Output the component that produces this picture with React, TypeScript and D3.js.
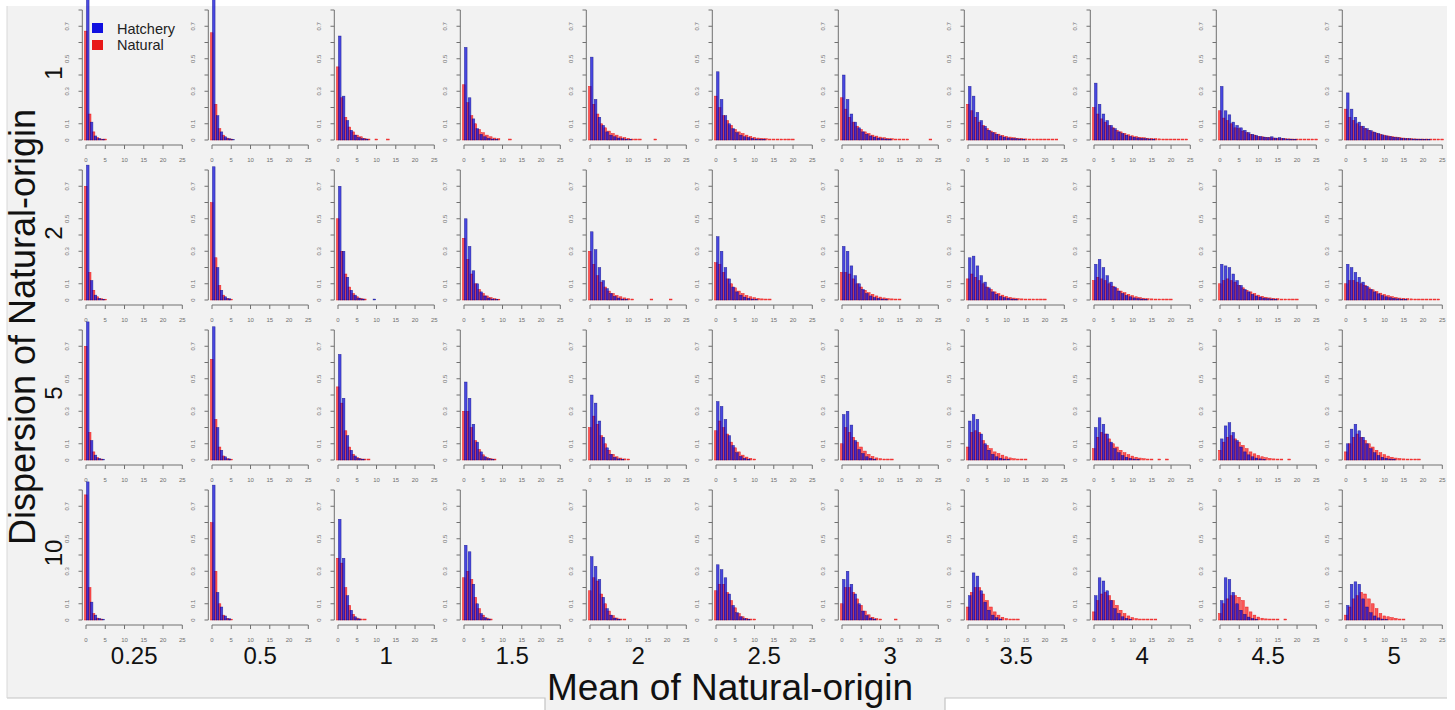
import React from "react";
import * as d3 from "d3";

// column (mean) and row (dispersion) labels
const means = ["0.25", "0.5", "1", "1.5", "2", "2.5", "3", "3.5", "4", "4.5", "5"];
const dispersions = ["1", "2", "5", "10"];
const xTicks = [0, 5, 10, 15, 20, 25];
const yTicks = [0, 0.1, 0.2, 0.3, 0.4, 0.5, 0.6, 0.7, 0.8];
const yTickLabels = [0, 0.1, 0.3, 0.5, 0.7];
const seriesNames = ["Hatchery", "Natural"];

// proportions per count (0, 1, 2, ...)
const hatcheryD1 = [
  [0.88, 0.11, 0.025, 0.01, 0.004],
  [0.88, 0.15, 0.05, 0.02, 0.008, 0.004],
  [0.64, 0.27, 0.12, 0.06, 0.03, 0.015, 0.008, 0.005],
  [0.57, 0.26, 0.13, 0.07, 0.035, 0.02, 0.01, 0.006, 0.004],
  [0.51, 0.25, 0.14, 0.09, 0.05, 0.03, 0.02, 0.012, 0.008, 0.005, 0.004],
  [0.42, 0.25, 0.15, 0.1, 0.07, 0.045, 0.03, 0.02, 0.015, 0.01, 0.006, 0.005, 0.004],
  [0.4, 0.25, 0.16, 0.11, 0.075, 0.05, 0.035, 0.025, 0.018, 0.012, 0.008, 0.006, 0.004],
  [0.33, 0.27, 0.17, 0.12, 0.085, 0.06, 0.045, 0.035, 0.025, 0.018, 0.013, 0.01, 0.008, 0.006, 0.004],
  [0.35, 0.22, 0.16, 0.12, 0.09, 0.07, 0.05, 0.04, 0.03, 0.022, 0.017, 0.013, 0.01, 0.008, 0.006, 0.005],
  [0.33, 0.18, 0.155, 0.11, 0.09, 0.075, 0.06, 0.045, 0.035, 0.028, 0.022, 0.018, 0.015, 0.02, 0.012, 0.015, 0.01, 0.006, 0.005, 0.004],
  [0.29, 0.19, 0.14, 0.11, 0.085, 0.07, 0.058, 0.048, 0.04, 0.032, 0.026, 0.021, 0.017, 0.014, 0.011, 0.009, 0.008, 0.006, 0.005, 0.005, 0.004, 0.004],
];
const naturalD1 = [
  [0.67, 0.16, 0.05, 0.015, 0.006, 0.006],
  [0.66, 0.22, 0.07, 0.03, 0.012, 0.006],
  [0.45, 0.26, 0.14, 0.08, 0.05, 0.03, 0.02, 0.01, 0.006, 0, 0.006, 0, 0, 0.006],
  [0.34, 0.23, 0.15, 0.1, 0.065, 0.045, 0.03, 0.02, 0.012, 0.008, 0, 0, 0.006],
  [0.33, 0.22, 0.16, 0.1, 0.075, 0.055, 0.04, 0.03, 0.02, 0.015, 0.01, 0.006, 0.006, 0.006, 0, 0, 0, 0.006],
  [0.27, 0.2, 0.15, 0.12, 0.09, 0.065, 0.05, 0.04, 0.03, 0.022, 0.016, 0.012, 0.01, 0.008, 0.006, 0.006, 0.006, 0.006, 0.006, 0.006, 0.006],
  [0.26, 0.19, 0.14, 0.11, 0.085, 0.065, 0.05, 0.04, 0.03, 0.024, 0.018, 0.014, 0.01, 0.008, 0.006, 0.006, 0.006, 0.006, 0, 0, 0, 0, 0, 0.006],
  [0.22, 0.18, 0.14, 0.11, 0.09, 0.07, 0.055, 0.045, 0.036, 0.028, 0.022, 0.018, 0.014, 0.011, 0.009, 0.007, 0.006, 0.006, 0.006, 0.006, 0.006, 0.006, 0.006, 0.006],
  [0.2, 0.16, 0.13, 0.11, 0.09, 0.075, 0.06, 0.05, 0.04, 0.032, 0.026, 0.021, 0.017, 0.014, 0.011, 0.009, 0.008, 0.007, 0.006, 0.006, 0.006, 0.006, 0.006, 0.006, 0.006],
  [0.18, 0.135, 0.12, 0.1, 0.075, 0.07, 0.055, 0.045, 0.035, 0.03, 0.022, 0.02, 0.016, 0.015, 0.012, 0.01, 0.009, 0.008, 0.007, 0.006, 0.006, 0.006, 0.006, 0.006, 0.006, 0.006],
  [0.19, 0.14, 0.12, 0.1, 0.085, 0.07, 0.06, 0.05, 0.042, 0.035, 0.03, 0.025, 0.021, 0.018, 0.015, 0.012, 0.01, 0.008, 0.007, 0.006, 0.006, 0.006, 0.006, 0.006, 0.006, 0.006],
];

const hatcheryD2 = [
  [0.83, 0.12, 0.03, 0.01, 0.004],
  [0.82, 0.2, 0.06, 0.02, 0.008],
  [0.7, 0.3, 0.14, 0.06, 0.03, 0.012, 0.006, 0, 0, 0.006],
  [0.5, 0.33, 0.18, 0.1, 0.05, 0.025, 0.012, 0.006, 0.004],
  [0.42, 0.31, 0.2, 0.12, 0.07, 0.04, 0.022, 0.012, 0.006, 0.004],
  [0.39, 0.3, 0.2, 0.13, 0.08, 0.05, 0.03, 0.018, 0.01, 0.006, 0.004],
  [0.33, 0.3, 0.21, 0.15, 0.1, 0.065, 0.04, 0.025, 0.015, 0.01, 0.006, 0.004],
  [0.26, 0.27, 0.21, 0.15, 0.11, 0.075, 0.05, 0.035, 0.022, 0.015, 0.01, 0.006, 0.004],
  [0.22, 0.25, 0.2, 0.15, 0.11, 0.08, 0.055, 0.04, 0.028, 0.02, 0.013, 0.009, 0.006, 0.004],
  [0.22, 0.21, 0.2, 0.16, 0.12, 0.09, 0.065, 0.05, 0.035, 0.025, 0.018, 0.012, 0.008, 0.006, 0.004],
  [0.22, 0.2, 0.17, 0.14, 0.11, 0.085, 0.065, 0.05, 0.038, 0.028, 0.02, 0.014, 0.01, 0.007, 0.005, 0.004],
];
const naturalD2 = [
  [0.7, 0.17, 0.06, 0.02, 0.008, 0.005],
  [0.6, 0.26, 0.09, 0.03, 0.01, 0.005],
  [0.5, 0.3, 0.16, 0.08, 0.04, 0.02, 0.01, 0.006],
  [0.38, 0.25, 0.16, 0.1, 0.065, 0.04, 0.025, 0.015, 0.008, 0.005],
  [0.3, 0.22, 0.15, 0.11, 0.08, 0.055, 0.04, 0.028, 0.02, 0.013, 0.008, 0.006, 0, 0, 0, 0, 0.006, 0, 0, 0, 0, 0.006],
  [0.23, 0.22, 0.17, 0.13, 0.1, 0.075, 0.055, 0.04, 0.028, 0.02, 0.014, 0.01, 0.007, 0.006, 0.006],
  [0.17, 0.17, 0.16, 0.13, 0.1, 0.08, 0.06, 0.045, 0.035, 0.025, 0.018, 0.013, 0.009, 0.007, 0.006, 0.006],
  [0.13, 0.16, 0.14, 0.12, 0.1, 0.08, 0.065, 0.05, 0.04, 0.03, 0.022, 0.016, 0.012, 0.009, 0.007, 0.006, 0.006, 0.006, 0.006, 0.006, 0.006],
  [0.12, 0.14, 0.13, 0.12, 0.1, 0.085, 0.07, 0.055, 0.045, 0.035, 0.027, 0.02, 0.015, 0.011, 0.008, 0.007, 0.006, 0.006, 0.006, 0.006, 0.006],
  [0.1, 0.12, 0.13, 0.12, 0.11, 0.09, 0.075, 0.06, 0.05, 0.04, 0.03, 0.023, 0.017, 0.013, 0.01, 0.008, 0.006, 0.006, 0.006, 0.006, 0.006],
  [0.1, 0.12, 0.12, 0.11, 0.1, 0.09, 0.075, 0.063, 0.052, 0.042, 0.034, 0.027, 0.021, 0.016, 0.012, 0.01, 0.008, 0.007, 0.006, 0.006, 0.006, 0.006, 0.006, 0.006, 0.006],
];

const hatcheryD5 = [
  [0.85, 0.12, 0.03, 0.01, 0.005],
  [0.82, 0.2, 0.06, 0.02, 0.007],
  [0.65, 0.38, 0.15, 0.06, 0.025, 0.01, 0.005],
  [0.48, 0.38, 0.22, 0.11, 0.05, 0.02, 0.008, 0.004],
  [0.4, 0.35, 0.24, 0.14, 0.075, 0.035, 0.016, 0.007, 0.004],
  [0.36, 0.33, 0.25, 0.15, 0.09, 0.045, 0.022, 0.01, 0.005],
  [0.28, 0.3, 0.215, 0.12, 0.065, 0.04, 0.02, 0.01, 0.005],
  [0.24, 0.28, 0.25, 0.16, 0.1, 0.06, 0.035, 0.02, 0.011, 0.006, 0.004],
  [0.2, 0.26, 0.22, 0.16, 0.11, 0.07, 0.045, 0.028, 0.017, 0.01, 0.006, 0.004],
  [0.13, 0.21, 0.23, 0.17, 0.12, 0.08, 0.05, 0.032, 0.02, 0.012, 0.007, 0.004],
  [0.1, 0.19, 0.22, 0.18, 0.14, 0.1, 0.07, 0.045, 0.028, 0.017, 0.01, 0.006, 0.004],
];
const naturalD5 = [
  [0.7, 0.17, 0.05, 0.015, 0.006],
  [0.62, 0.25, 0.08, 0.025, 0.008, 0.005],
  [0.45, 0.35, 0.18, 0.08, 0.035, 0.015, 0.007, 0.006, 0.006],
  [0.3, 0.3, 0.2, 0.12, 0.065, 0.032, 0.015, 0.008, 0.006],
  [0.2, 0.27, 0.22, 0.15, 0.1, 0.06, 0.035, 0.02, 0.012, 0.007, 0.006],
  [0.18, 0.24, 0.2, 0.16, 0.11, 0.075, 0.05, 0.03, 0.018, 0.01, 0.006],
  [0.1, 0.2, 0.17, 0.14, 0.11, 0.08, 0.055, 0.035, 0.022, 0.013, 0.008, 0.006, 0.006, 0.006],
  [0.08, 0.17, 0.18, 0.17, 0.12, 0.09, 0.07, 0.05, 0.04, 0.03, 0.02, 0.013, 0.008, 0.006, 0.006, 0.006],
  [0.07, 0.14, 0.17, 0.16, 0.13, 0.1, 0.08, 0.06, 0.045, 0.033, 0.024, 0.017, 0.012, 0.008, 0.006, 0.006, 0, 0.006, 0, 0.006],
  [0.06, 0.11, 0.14, 0.15, 0.13, 0.11, 0.09, 0.07, 0.05, 0.038, 0.028, 0.02, 0.014, 0.01, 0.007, 0.006, 0.006, 0, 0.006],
  [0.05, 0.1, 0.14, 0.16, 0.14, 0.12, 0.1, 0.08, 0.06, 0.045, 0.033, 0.024, 0.017, 0.012, 0.009, 0.007, 0.006, 0.006, 0.006, 0.006],
];

const hatcheryD10 = [
  [0.85, 0.11, 0.03, 0.01, 0.005],
  [0.83, 0.17, 0.08, 0.025, 0.008],
  [0.62, 0.38, 0.15, 0.06, 0.02, 0.007],
  [0.46, 0.42, 0.22, 0.1, 0.04, 0.015, 0.006],
  [0.39, 0.33, 0.25, 0.14, 0.07, 0.03, 0.012, 0.005],
  [0.34, 0.31, 0.26, 0.16, 0.09, 0.045, 0.02, 0.008, 0.004],
  [0.25, 0.3, 0.22, 0.16, 0.1, 0.055, 0.027, 0.012, 0.006],
  [0.15, 0.29, 0.27, 0.18, 0.11, 0.06, 0.03, 0.014, 0.006],
  [0.15, 0.26, 0.24, 0.18, 0.12, 0.07, 0.04, 0.02, 0.01, 0.005],
  [0.12, 0.26, 0.25, 0.17, 0.1, 0.06, 0.035, 0.018, 0.009, 0.005],
  [0.09, 0.22, 0.235, 0.22, 0.13, 0.08, 0.045, 0.025, 0.013, 0.006, 0.004],
];
const naturalD10 = [
  [0.77, 0.2, 0.04, 0.012, 0.006],
  [0.6, 0.3, 0.1, 0.03, 0.01, 0.005],
  [0.38, 0.35, 0.2, 0.09, 0.035, 0.012, 0.006, 0.006],
  [0.26, 0.3, 0.25, 0.14, 0.07, 0.03, 0.012, 0.006],
  [0.18, 0.26, 0.24, 0.16, 0.1, 0.055, 0.027, 0.012, 0.006, 0.006],
  [0.18, 0.22, 0.22, 0.17, 0.12, 0.075, 0.04, 0.02, 0.01, 0.006, 0.006],
  [0.1, 0.2, 0.2, 0.17, 0.13, 0.09, 0.055, 0.032, 0.017, 0.008, 0.006, 0, 0, 0, 0.006],
  [0.08, 0.17, 0.2, 0.2, 0.16, 0.12, 0.08, 0.05, 0.03, 0.017, 0.009, 0.006, 0.006, 0.006],
  [0.05, 0.12, 0.16, 0.17, 0.15, 0.12, 0.09, 0.06, 0.04, 0.025, 0.015, 0.009, 0.006, 0.006, 0.006, 0.006, 0.006],
  [0.04, 0.1, 0.13, 0.15, 0.15, 0.14, 0.12, 0.08, 0.05, 0.03, 0.018, 0.011, 0.007, 0.006, 0.006, 0.006, 0, 0.006],
  [0.03, 0.08, 0.13, 0.15, 0.17, 0.16, 0.13, 0.1, 0.07, 0.04, 0.025, 0.02, 0.015, 0.01, 0.006, 0.006],
];

const hatchery = [hatcheryD1, hatcheryD2, hatcheryD5, hatcheryD10];
const natural = [naturalD1, naturalD2, naturalD5, naturalD10];

const FONT = "'Liberation Sans', Arial, sans-serif";
const AXIS = "#707070";

// layout of the panel grid
const col0 = 86;
const colStep = 126;
const row0 = 140;
const rowStep = 160;

const x = d3.scaleLinear().domain([0, 25]).range([0, 96.3]);
const y = d3.scaleLinear().domain([0, 0.8]).range([0, -130]);

function Panel({ h, n, tx, ty }: { h: number[]; n: number[]; tx: number; ty: number }) {
  const bw = x(0.7) - x(0);
  return (
    <g transform={`translate(${tx},${ty})`}>
      {n.map((v, k) =>
        v > 0 ? (
          <rect
            key={"n" + k}
            x={x(k - 0.4)}
            y={y(v)}
            width={bw}
            height={-y(v)}
            fill="rgba(255,20,20,0.7)"
            stroke="rgba(230,0,0,0.8)"
            strokeWidth={0.5}
          />
        ) : null
      )}
      {h.map((v, k) =>
        v > 0 ? (
          <rect
            key={"h" + k}
            x={x(k + 0.1)}
            y={y(v)}
            width={bw}
            height={-y(v)}
            fill="rgba(0,0,215,0.7)"
            stroke="rgba(0,0,120,0.7)"
            strokeWidth={0.5}
          />
        ) : null
      )}
      {/* y axis */}
      <line x1={-3.7} x2={-3.7} y1={y(0)} y2={y(0.8)} stroke={AXIS} strokeWidth={1} />
      {yTicks.map((t) => (
        <line key={t} x1={-3.7} x2={-7.5} y1={y(t)} y2={y(t)} stroke={AXIS} strokeWidth={1} />
      ))}
      {yTickLabels.map((t) => (
        <text
          key={t}
          transform={`translate(-17,${y(t)}) rotate(-90)`}
          textAnchor="middle"
          fontSize={6}
          fill={AXIS}
          fontFamily={FONT}
        >
          {t}
        </text>
      ))}
      {/* x axis */}
      <line x1={x(0)} x2={x(25)} y1={5} y2={5} stroke={AXIS} strokeWidth={1} />
      {xTicks.map((t) => (
        <g key={t}>
          <line x1={x(t)} x2={x(t)} y1={5} y2={9} stroke={AXIS} strokeWidth={1} />
          <text x={x(t)} y={22} textAnchor="middle" fontSize={6} fill={AXIS} fontFamily={FONT}>
            {t}
          </text>
        </g>
      ))}
    </g>
  );
}

export default function App() {
  return (
    <svg
      width={1455}
      height={710}
      style={{ position: "absolute", left: 0, top: 0, background: "#ffffff" }}
    >
      {/* grey frame of the screenshot */}
      <rect x={7} y={6} width={1440} height={692} fill="#f2f2f2" />
      <rect x={545} y={697} width={400} height={13} fill="#f2f2f2" />
      <path d="M7,698 H545 V710 M945,710 V698 H1447" fill="none" stroke="#c4c4c4" strokeWidth={1.2} />
      <line x1={7} x2={7} y1={6} y2={698} stroke="#d8d8d8" />

      {dispersions.map((d, r) =>
        means.map((m, c) => (
          <Panel
            key={d + "-" + m}
            h={hatchery[r][c]}
            n={natural[r][c]}
            tx={col0 + colStep * c}
            ty={row0 + rowStep * r}
          />
        ))
      )}

      {/* row labels */}
      {dispersions.map((d, r) => (
        <text
          key={d}
          transform={`translate(62,${73 + rowStep * r}) rotate(-90)`}
          textAnchor="middle"
          fontSize={24}
          fontFamily={FONT}
          fill="#111"
        >
          {d}
        </text>
      ))}

      {/* column labels */}
      {means.map((m, c) => (
        <text
          key={m}
          x={col0 + colStep * c + x(12.5)}
          y={664}
          textAnchor="middle"
          fontSize={24}
          fontFamily={FONT}
          fill="#111"
        >
          {m}
        </text>
      ))}

      <text
        transform="translate(35,327) rotate(-90)"
        textAnchor="middle"
        fontSize={36}
        fontFamily={FONT}
        fill="#111"
      >
        Dispersion of Natural-origin
      </text>
      <text x={730} y={700} textAnchor="middle" fontSize={37} fontFamily={FONT} fill="#111">
        Mean of Natural-origin
      </text>

      {/* legend */}
      <rect x={92} y={23} width={11} height={10} fill="#1010e0" />
      <rect x={92} y={40} width={11} height={10} fill="#e81818" />
      <text x={117} y={34} fontSize={14.5} fontFamily={FONT} fill="#222">
        {seriesNames[0]}
      </text>
      <text x={117} y={50} fontSize={14.5} fontFamily={FONT} fill="#222">
        {seriesNames[1]}
      </text>
    </svg>
  );
}
